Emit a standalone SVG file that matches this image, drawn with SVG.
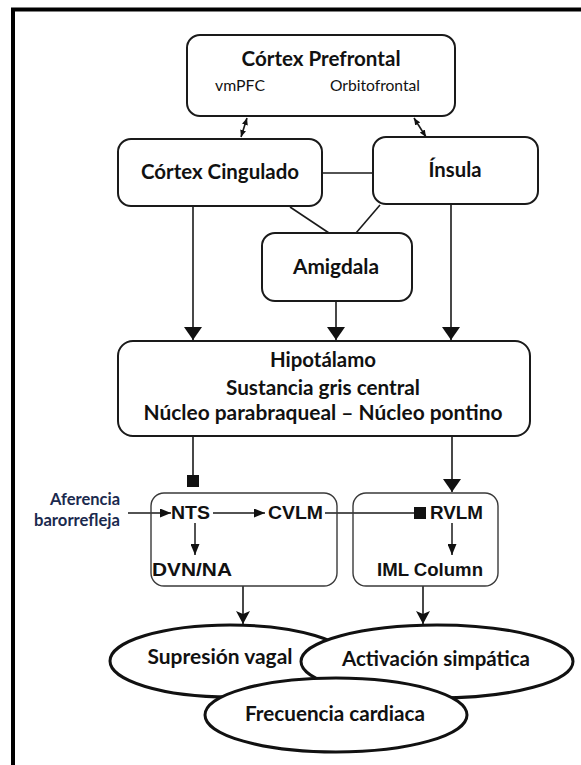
<svg xmlns="http://www.w3.org/2000/svg" width="581" height="765" viewBox="0 0 581 765">
  <style>
    .box { fill: #fff; stroke: #1a1a1a; stroke-width: 2; }
    .mbox { fill: none; stroke: #3a3a3a; stroke-width: 1.4; }
    .oval { fill: #fff; stroke: #111; stroke-width: 3; }
    .lbl { font-family: Lato, "Liberation Sans", sans-serif; font-weight: bold; font-size: 20.5px; fill: #111; text-anchor: middle; }
    .sub { font-family: Lato, "Liberation Sans", sans-serif; font-size: 15px; fill: #111; }
    .aff { font-family: Lato, "Liberation Sans", sans-serif; font-weight: bold; font-size: 17px; fill: #1b2a4e; text-anchor: end; }
    .nuc { font-family: "Liberation Sans", Arial, sans-serif; font-weight: bold; font-size: 18px; fill: #111; }
    .ln { fill: none; stroke: #1a1a1a; stroke-width: 1.6; }
    .lnm { fill: none; stroke: #1a1a1a; stroke-width: 1.5; }
  </style>
  <defs>
    <marker id="tri" viewBox="0 0 13 18" refX="13" refY="9" markerWidth="13" markerHeight="18" markerUnits="userSpaceOnUse" orient="auto">
      <path d="M0,0 L13,9 L0,18 z" fill="#111"/>
    </marker>
    <marker id="tri-md" viewBox="0 0 13 14" refX="13" refY="7" markerWidth="13" markerHeight="14" markerUnits="userSpaceOnUse" orient="auto">
      <path d="M0,0 L13,7 L0,14 L3,7 z" fill="#111"/>
    </marker>
    <marker id="tri-sm" viewBox="0 0 11 9" refX="11" refY="4.5" markerWidth="11" markerHeight="9" markerUnits="userSpaceOnUse" orient="auto">
      <path d="M0,0 L11,4.5 L0,9 z" fill="#111"/>
    </marker>
    <marker id="tip" viewBox="0 0 7 6" refX="7" refY="3" markerWidth="7" markerHeight="6" markerUnits="userSpaceOnUse" orient="auto-start-reverse">
      <path d="M0,0 L7,3 L0,6 z" fill="#111"/>
    </marker>
    <marker id="sq" viewBox="0 0 12 12" refX="12" refY="6" markerWidth="12" markerHeight="12" markerUnits="userSpaceOnUse" orient="auto">
      <rect x="0" y="0" width="12" height="12" fill="#111"/>
    </marker>
  </defs>

  <rect width="581" height="765" fill="#fff"/>
  <!-- page frame -->
  <rect x="13" y="9.5" width="600" height="800" fill="none" stroke="#000" stroke-width="4"/>

  <!-- connectors -->
  <g id="connectors">
    <line class="ln" x1="247" y1="118" x2="241" y2="137" marker-start="url(#tip)" marker-end="url(#tip)"/>
    <line class="ln" x1="414" y1="118" x2="426" y2="137" marker-start="url(#tip)" marker-end="url(#tip)"/>
    <line class="ln" x1="322" y1="173" x2="373" y2="173"/>
    <line class="ln" x1="290" y1="207" x2="329" y2="233"/>
    <line class="ln" x1="380" y1="205" x2="356" y2="233"/>
    <line class="ln" x1="193" y1="206" x2="193" y2="340" marker-end="url(#tri)"/>
    <line class="ln" x1="336" y1="301" x2="336" y2="340" marker-end="url(#tri)"/>
    <line class="ln" x1="451" y1="204" x2="451" y2="340" marker-end="url(#tri)"/>
    <line class="ln" x1="193" y1="436" x2="193" y2="487" marker-end="url(#sq)"/>
    <line class="ln" x1="452" y1="436" x2="452" y2="492" marker-end="url(#tri)"/>
    <line class="lnm" x1="128" y1="513" x2="171" y2="513" marker-end="url(#tri-sm)"/>
    <line class="lnm" x1="213" y1="513" x2="265" y2="513" marker-end="url(#tri-sm)"/>
    <line class="lnm" x1="325" y1="513" x2="426" y2="513" marker-end="url(#sq)"/>
    <line class="lnm" x1="195" y1="523" x2="195" y2="555" marker-end="url(#tri-sm)"/>
    <line class="lnm" x1="452" y1="523" x2="452" y2="555" marker-end="url(#tri-sm)"/>
    <line class="ln" x1="243" y1="586" x2="243" y2="624" marker-end="url(#tri-md)"/>
    <line class="ln" x1="423" y1="586" x2="423" y2="624" marker-end="url(#tri-md)"/>
  </g>

  <g id="prefrontal">
    <rect class="box" x="187" y="35" width="268" height="81" rx="13"/>
    <text class="lbl" x="321" y="66" textLength="159" lengthAdjust="spacingAndGlyphs">Córtex Prefrontal</text>
    <text class="sub" x="215" y="91" textLength="50" lengthAdjust="spacingAndGlyphs">vmPFC</text>
    <text class="sub" x="330" y="91" textLength="90" lengthAdjust="spacingAndGlyphs">Orbitofrontal</text>
  </g>

  <g id="cingulado">
    <rect class="box" x="118" y="139" width="204" height="67" rx="13"/>
    <text class="lbl" x="220" y="179" textLength="158" lengthAdjust="spacingAndGlyphs">Córtex Cingulado</text>
  </g>

  <g id="insula">
    <rect class="box" x="373" y="137" width="165" height="67" rx="13"/>
    <text class="lbl" x="455" y="177" textLength="53" lengthAdjust="spacingAndGlyphs">Ínsula</text>
  </g>

  <g id="amigdala">
    <rect class="box" x="262" y="233" width="150" height="68" rx="13"/>
    <text class="lbl" x="336" y="274" textLength="86" lengthAdjust="spacingAndGlyphs">Amigdala</text>
  </g>

  <g id="hipotalamo">
    <rect class="box" x="118" y="341" width="412" height="95" rx="15"/>
    <text class="lbl" x="323" y="367" textLength="106" lengthAdjust="spacingAndGlyphs">Hipotálamo</text>
    <text class="lbl" x="323" y="395" textLength="194" lengthAdjust="spacingAndGlyphs">Sustancia gris central</text>
    <text class="lbl" x="323" y="420" textLength="359" lengthAdjust="spacingAndGlyphs">Núcleo parabraqueal – Núcleo pontino</text>
  </g>

  <g id="aferencia">
    <text class="aff" x="120" y="505" textLength="70" lengthAdjust="spacingAndGlyphs">Aferencia</text>
    <text class="aff" x="120" y="526" textLength="86" lengthAdjust="spacingAndGlyphs">barorrefleja</text>
  </g>

  <g id="bulbo-vagal">
    <rect class="mbox" x="151" y="493" width="186" height="93" rx="13"/>
    <text class="nuc" x="171" y="519" textLength="39" lengthAdjust="spacingAndGlyphs">NTS</text>
    <text class="nuc" x="268" y="519" textLength="55" lengthAdjust="spacingAndGlyphs">CVLM</text>
    <text class="nuc" x="152" y="576" textLength="80" lengthAdjust="spacingAndGlyphs">DVN/NA</text>
  </g>

  <g id="bulbo-simpatico">
    <rect class="mbox" x="353" y="493" width="145" height="93" rx="13"/>
    <text class="nuc" x="430" y="519" textLength="53" lengthAdjust="spacingAndGlyphs">RVLM</text>
    <text class="nuc" x="377" y="576" textLength="106" lengthAdjust="spacingAndGlyphs">IML Column</text>
  </g>

  <g id="supresion-vagal">
    <ellipse class="oval" cx="230" cy="661" rx="120" ry="36"/>
    <text class="lbl" x="220" y="664" textLength="145" lengthAdjust="spacingAndGlyphs">Supresión vagal</text>
  </g>

  <g id="activacion-simpatica">
    <ellipse class="oval" cx="437" cy="661.5" rx="136" ry="36.5"/>
    <text class="lbl" x="436" y="666" textLength="188" lengthAdjust="spacingAndGlyphs">Activación simpática</text>
  </g>

  <g id="frecuencia-cardiaca">
    <ellipse class="oval" cx="336" cy="715" rx="131" ry="37"/>
    <text class="lbl" x="335" y="721" textLength="180" lengthAdjust="spacingAndGlyphs">Frecuencia cardiaca</text>
  </g>
</svg>
